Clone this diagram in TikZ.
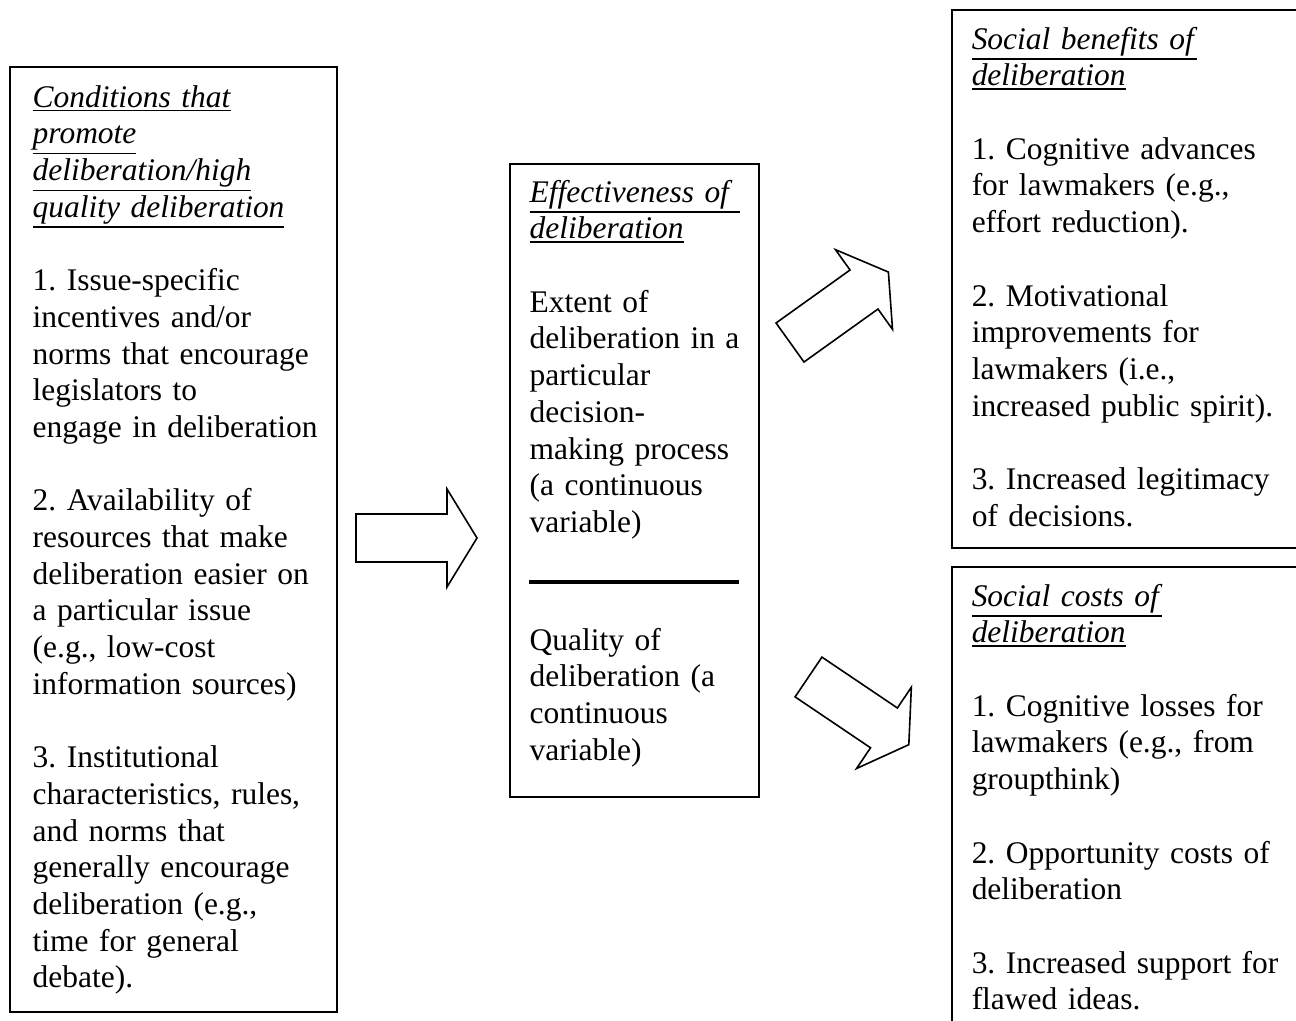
\documentclass[tikz,border=0pt]{standalone}
\usepackage{fontspec}
\setmainfont{Liberation Serif}
\usetikzlibrary{calc,positioning,fit}

% underlined italic heading line
\newcommand\headline[1]{\setbox0\hbox{\textit{#1}}\leavevmode
    \rlap{\textit{#1}}\rule[-\dimexpr\dp0+1.4pt\relax]{\wd0}{0.55pt}}

\begin{document}
\frenchspacing
\begin{tikzpicture}[x=0.375pt, y=-0.375pt,
    frame/.style = {draw, line width=0.6pt, inner sep=0pt},
    txt/.style = {anchor=base west, align=left, inner sep=0pt,
        font=\fontsize{11.8}{13.76}\selectfont\frenchspacing},
    blockarrow/.pic = {
        \draw[line width=0.6pt, miter limit=20]
            (0,-24) -- (91,-24) -- (91,-49) -- (121,0) -- (91,49) -- (91,24) -- (0,24) -- cycle;
    }]

    \clip (0,0) rectangle (1296,1021);

    % frames
    \node[frame, fit={(10,67) (337,1012)}] (cond) {};
    \node[frame, fit={(510,164) (759,797)}] (eff) {};
    \node[frame, fit={(952,10) (1330,548)}] (benef) {};
    \node[frame, fit={(952,567) (1330,1050)}] (cost) {};

    \node[txt, text width=114pt] (condtxt) at ($(cond.north west)+(23,41)$) {%
        \headline{Conditions that}\\
        \headline{promote}\\
        \headline{deliberation/high}\\
        \headline{quality deliberation}\\[\baselineskip]
        1. Issue-specific\\
        incentives and/or\\
        norms that encourage\\
        legislators to\\
        engage in deliberation\\[\baselineskip]
        2. Availability of\\
        resources that make\\
        deliberation easier on\\
        a particular issue\\
        (e.g., low-cost\\
        information sources)\\[\baselineskip]
        3. Institutional\\
        characteristics, rules,\\
        and norms that\\
        generally encourage\\
        deliberation (e.g.,\\
        time for general\\
        debate).};

    \node[txt, text width=84pt] (efftxt) at ($(eff.north west)+(20,39)$) {%
        \headline{\makebox[78.75pt][s]{Effectiveness of}}\\
        \headline{deliberation}\\[\baselineskip]
        Extent of\\
        deliberation in a\\
        particular\\
        decision-\\
        making process\\
        (a continuous\\
        variable)};

    \draw[line width=1.3pt] ($(eff.north west)+(20,419)$) coordinate (rulea) -- ++(210,0) coordinate (ruleb);

    \node[txt, text width=84pt] (qualtxt) at ($(eff.north west)+(20,487)$) {%
        Quality of\\
        deliberation (a\\
        continuous\\
        variable)};

    \node[txt, text width=120pt] (beneftxt) at ($(benef.north west)+(20,40)$) {%
        \headline{Social benefits of}\\
        \headline{deliberation}\\[\baselineskip]
        1. Cognitive advances\\
        for lawmakers (e.g.,\\
        effort reduction).\\[\baselineskip]
        2. Motivational\\
        improvements for\\
        lawmakers (i.e.,\\
        increased public spirit).\\[\baselineskip]
        3. Increased legitimacy\\
        of decisions.};

    \node[txt, text width=120pt] (costtxt) at ($(cost.north west)+(20,40)$) {%
        \headline{Social costs of}\\
        \headline{deliberation}\\[\baselineskip]
        1. Cognitive losses for\\
        lawmakers (e.g., from\\
        groupthink)\\[\baselineskip]
        2. Opportunity costs of\\
        deliberation\\[\baselineskip]
        3. Increased support for\\
        flawed ideas.};

    % block arrows
    \pic at (356,538) {blockarrow};
    \pic[rotate=35.6] at (790,342.5) {blockarrow};
    \pic[rotate=-34] at (808.5,677) {blockarrow};

\end{tikzpicture}
\end{document}
